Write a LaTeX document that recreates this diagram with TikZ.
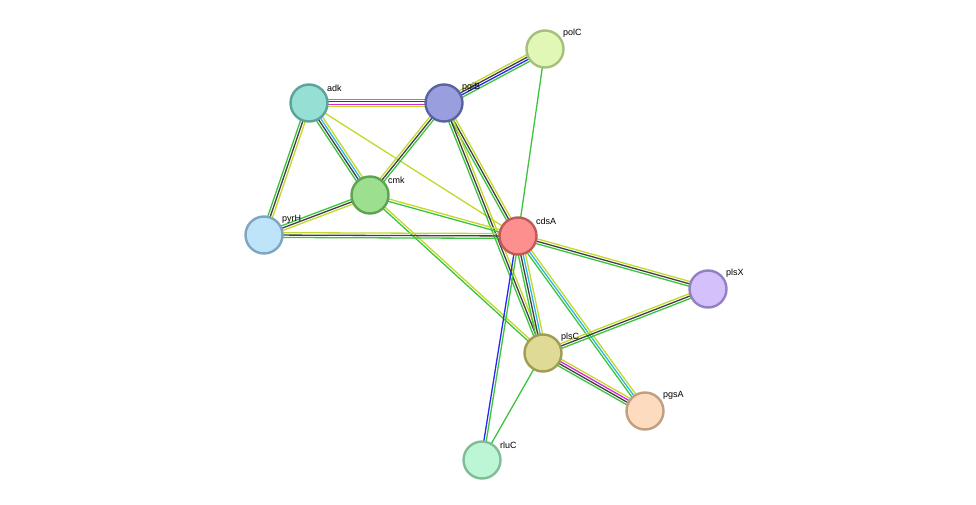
\documentclass[tikz,border=0pt]{standalone}
\usepackage{fontspec}
\setmainfont{Liberation Sans}
\usetikzlibrary{calc}
\definecolor{eg}{HTML}{3CC43C}
\definecolor{ey}{HTML}{C2D82A}
\definecolor{ek}{HTML}{404040}
\definecolor{ec}{HTML}{2EB8E0}
\definecolor{em}{HTML}{D42AD4}
\definecolor{eb}{HTML}{2828F0}
\newcommand\sedge[4]{%
  \foreach \c [count=\i] in {#4} {%
    \pgfmathsetmacro\o{(\i-1-(#3-1)/2)*2.4}%
    \draw[line width=1.3pt,\c] ($(#1)!\o pt!90:(#2)$) -- ($(#2)!\o pt!-90:(#1)$);
  }}
\begin{document}
\begin{tikzpicture}[x=1pt,y=-1pt,
  prot/.style={circle,minimum size=37pt,inner sep=0pt,line width=2.4pt},
  lbl/.style={anchor=south west,font=\fontsize{9pt}{10pt}\selectfont,inner sep=1pt}]
\useasboundingbox (0,0) rectangle (976,505);
\coordinate (polC) at (545,49);
\coordinate (adk) at (309,103);
\coordinate (pgiB) at (444,103);
\coordinate (cmk) at (370,195);
\coordinate (pyrH) at (264,235);
\coordinate (cdsA) at (518,236);
\coordinate (plsX) at (708,289);
\coordinate (plsC) at (543,353);
\coordinate (pgsA) at (645,411);
\coordinate (rluC) at (482,460);
\sedge{adk}{pgiB}{4}{ey,em,ek,eg}
\sedge{adk}{cmk}{4}{eg,ek,ec,ey}
\sedge{adk}{pyrH}{3}{eg,ek,ey}
\sedge{adk}{cdsA}{1}{ey}
\sedge{pgiB}{polC}{4}{eg,eb,ek,ey}
\sedge{pgiB}{cmk}{3}{ey,ek,eg}
\sedge{pgiB}{cdsA}{3}{eg,ek,ey}
\sedge{pgiB}{plsC}{3}{eg,ek,ey}
\sedge{polC}{cdsA}{1}{eg}
\sedge{cmk}{pyrH}{3}{eg,ek,ey}
\sedge{cmk}{cdsA}{2}{eg,ey}
\sedge{cmk}{plsC}{2}{eg,ey}
\sedge{pyrH}{cdsA}{3}{eg,ek,ey}
\sedge{cdsA}{plsX}{3}{eg,ek,ey}
\sedge{cdsA}{plsC}{4}{eg,ek,ec,ey}
\sedge{cdsA}{pgsA}{3}{eg,ec,ey}
\sedge{cdsA}{rluC}{2}{eb,eg}
\sedge{plsC}{plsX}{3}{eg,ek,ey}
\sedge{plsC}{pgsA}{4}{eg,ek,em,ey}
\sedge{plsC}{rluC}{1}{eg}
\foreach \n/\f/\d in {polC/E1F7B5/A5BF7C, adk/96DFD4/5AA39A, pgiB/999FDE/5A62A0, cmk/9BDF8F/5EA352, pyrH/BDE4F9/7FA6C0, cdsA/FE8F8F/C05A5A, plsX/D4C0FA/9380C2, plsC/DFDB97/A09C55, pgsA/FDDBBE/C09E80, rluC/BDF6D4/80BC98} {
  \definecolor{ff}{HTML}{\f}\definecolor{dd}{HTML}{\d}
  \node[prot,fill=ff,draw=dd] (\n-n) at (\n) {};
  \node[lbl] (\n-l) at ($(\n)+(17,-10)$) {\n};
}
\end{tikzpicture}
\end{document}
